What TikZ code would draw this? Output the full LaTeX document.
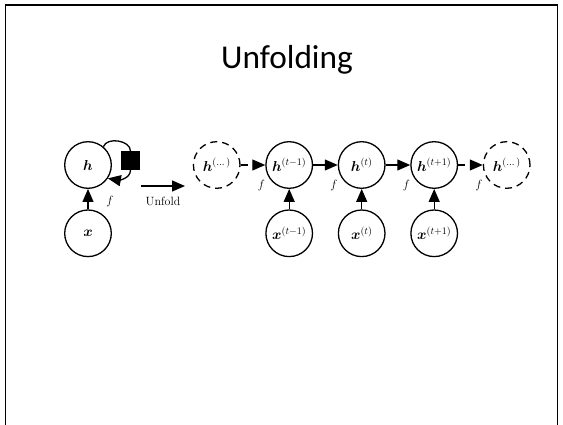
\documentclass[tikz,border=0pt]{standalone}
\usepackage{fontspec}
\usepackage{amsmath}
\usetikzlibrary{arrows.meta, positioning}
\newfontfamily\slidefont{Carlito}
\tikzset{
  arrowK/.style={-{Triangle[length=13pt, width=11pt]}, line width=1.3pt},
  arrowKd/.style={arrowK, dash pattern=on 7pt off 5pt},
  unitC/.style={circle, draw, line width=1.3pt, minimum size=46.6pt,
                inner sep=0pt, font=\fontsize{14}{16}\selectfont},
  unitD/.style={unitC, dash pattern=on 7pt off 5pt},
  delayBox/.style={rectangle, fill=black, minimum size=18.5pt, inner sep=0pt},
  flabel/.style={font=\fontsize{13}{15}\selectfont},
}
\begin{document}
\begin{tikzpicture}[x=1pt, y=1pt]
  \useasboundingbox (0,0) rectangle (563,424);
  % slide frame
  \draw[line width=1.7pt] (5.5,-2) -- (5.5,419) -- (557.5,419) -- (557.5,-2);
  \node[font=\slidefont\fontsize{33.3}{40}\selectfont, anchor=base] (title)
    at (287,355.5) {Unfolding};

  % folded graph with delay
  \node[unitC] (h) at (88,259) {$\boldsymbol{h}$};
  \node[unitC, below=20.4pt of h] (x) {$\boldsymbol{x}$};
  \node[delayBox] (delay) at (130.5,263.5) {};
  \draw[arrowK] (x) -- (h);
  \draw[line width=1.3pt] (h.50) to[out=70, in=90] (delay.north);
  \draw[arrowK] (delay.south) to[out=-90, in=-10] (h.-34);
  \node[flabel] (f0) at (110,222) {$f$};

  % unfold arrow
  \coordinate (uL) at (141,238);
  \coordinate (uR) at (185,238);
  \draw[arrowK] (uL) -- node[below=7pt, font=\fontsize{12}{14}\selectfont] (unfoldtxt) {Unfold} (uR);

  % unfolded chain
  \node[unitD] (h0) at (216.7,259) {$\boldsymbol{h}^{(\dots)}$};
  \foreach \i/\s in {1/t-1,2/t,3/t+1} {
    \node[unitC, label={[flabel]-150:$f$}] (h\i) at (216.7+\i*72.5,259)
      {$\boldsymbol{h}^{(\s)}$};
    \node[unitC, below=20.4pt of h\i] (x\i) {$\boldsymbol{x}^{(\s)}$};
    \draw[arrowK] (x\i) -- (h\i);
  }
  \node[unitD, label={[flabel]-150:$f$}] (h4) at (506.7,259) {$\boldsymbol{h}^{(\dots)}$};
  \draw[arrowKd] (h0) -- (h1);
  \foreach \i/\j in {1/2,2/3} {
    \draw[arrowK] (h\i) -- (h\j);
  }
  \draw[arrowKd] (h3) -- (h4);
\end{tikzpicture}
\end{document}
